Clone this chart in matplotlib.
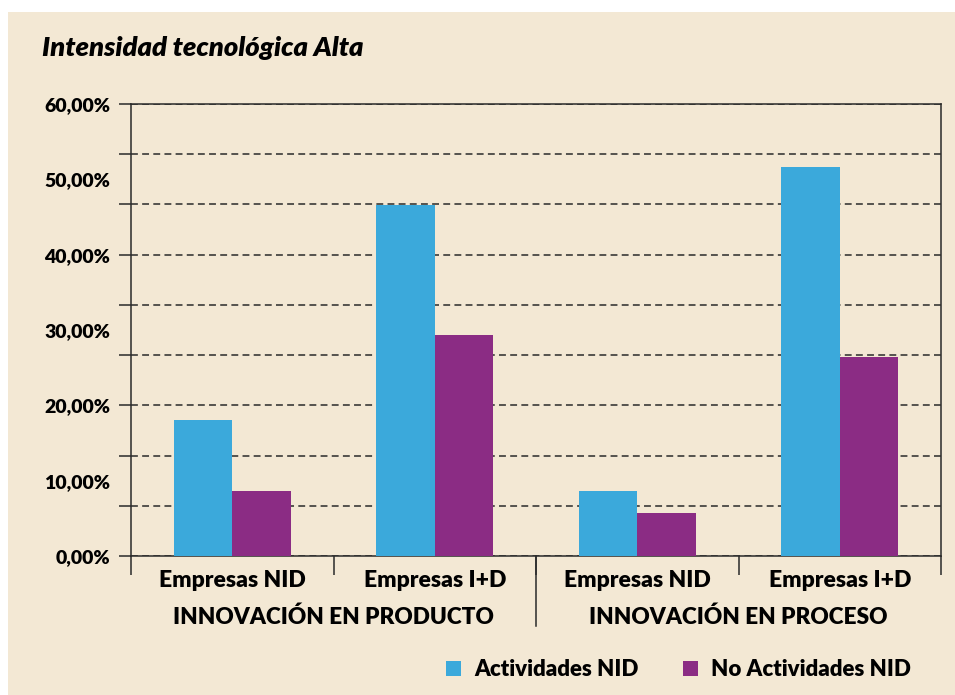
import numpy as np
import matplotlib
matplotlib.use("Agg")
import matplotlib.pyplot as plt
from matplotlib.ticker import FixedLocator, FuncFormatter

# data
categories = ["Empresas NID", "Empresas I+D", "Empresas NID", "Empresas I+D"]
groups = ["INNOVACIÓN EN PRODUCTO", "INNOVACIÓN EN PROCESO"]
series_names = ["Actividades NID", "No Actividades NID"]
actividades = [18.05, 46.6, 8.63, 51.64]
no_actividades = [8.63, 29.34, 5.71, 26.42]
label_ticks = [0, 10, 20, 30, 40, 50, 60]

bg = "#F3E8D4"
blue = "#3BA9DB"
purple = "#8B2C84"
dark = "#2A2A2A"
heavy = 800

plt.rcParams["font.family"] = ["Lato", "DejaVu Sans"]
plt.rcParams["font.weight"] = heavy

fig = plt.figure(figsize=(9.55, 6.95), dpi=100)
fig.patch.set_facecolor("white")
# cream panel behind everything
fig.patches.append(plt.Rectangle((8 / 955, 0), 1, 1 - 12 / 695,
                                 transform=fig.transFigure,
                                 facecolor=bg, edgecolor="none", zorder=-10))

ax = fig.add_axes([131 / 955, 139 / 695, 810 / 955, 452 / 695])
ax.set_facecolor(bg)

x = np.arange(len(categories))
w = 0.29
b1 = ax.bar(x - w / 2, actividades, w, color=blue, label=series_names[0], zorder=3)
b2 = ax.bar(x + w / 2, no_actividades, w, color=purple, label=series_names[1], zorder=3)

ax.set_xlim(-0.5, len(categories) - 0.5)
ax.set_ylim(0, 60)

# grid lines on ninths of the axis, labels every 10 %
ax.yaxis.remove_overlapping_locs = False
ax.yaxis.set_major_locator(FixedLocator(np.linspace(0, 60, 10)))
ax.yaxis.set_major_formatter(FuncFormatter(lambda v, p: ""))
ax.yaxis.set_minor_locator(FixedLocator(label_ticks))
ax.yaxis.set_minor_formatter(FuncFormatter(lambda v, p: f"{v:.2f}".replace(".", ",") + "%"))
ax.tick_params(axis="y", which="major", length=9, width=1.1, color=dark)
ax.tick_params(axis="y", which="minor", length=0, pad=15, labelsize=14, labelcolor="black")
ax.yaxis.grid(True, which="major", color=dark, linewidth=1.1, dashes=(4.5, 2.8))
ax.set_axisbelow(True)

ax.xaxis.remove_overlapping_locs = False
ax.set_xticks(np.arange(len(categories) + 1) - 0.5)
ax.set_xticklabels([])
ax.set_xticks(x, minor=True)
ax.set_xticklabels(categories, minor=True)
ax.tick_params(axis="x", which="major", length=14, width=1.1, color=dark)
ax.tick_params(axis="x", which="minor", length=0, pad=10, labelsize=16.5, labelcolor="black")

for s in ax.spines.values():
    s.set_color(dark)
    s.set_linewidth(1.1)

# separator between the two groups
tr = ax.get_xaxis_transform()
ax.plot([1.5, 1.5], [0, -70 / 452], transform=tr, color=dark, lw=1.1, clip_on=False)
for i, g in enumerate(groups):
    ax.text(0.5 + 2 * i, -61 / 452, g, transform=tr, ha="center", va="center",
            fontsize=16.3, fontweight=heavy)

fig.text(42 / 955, 1 - 48 / 695, "Intensidad tecnológica Alta", ha="left", va="center",
         fontsize=19.7, fontweight=heavy, style="italic")

fig.legend(handles=[b1, b2], labels=series_names, loc="center",
           bbox_to_anchor=(678.5 / 955, 25 / 695), ncol=2, frameon=False,
           prop={"size": 16, "weight": heavy},
           handlelength=0.68, handleheight=0.68, handletextpad=0.6,
           columnspacing=2.0, borderpad=0)

fig.savefig("out.png", dpi=100, facecolor=fig.get_facecolor())
